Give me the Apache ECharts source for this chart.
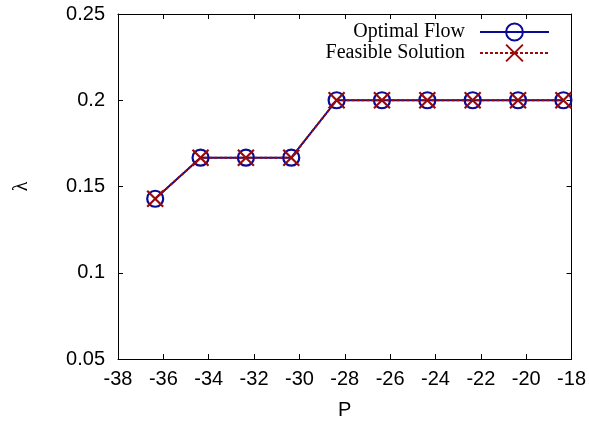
<!DOCTYPE html>
<html>
<head>
<meta charset="utf-8">
<script src="https://cdn.jsdelivr.net/npm/echarts@6/dist/echarts.min.js"></script>
<style>
html,body{margin:0;padding:0;background:#fff;}
#chart{width:589px;height:425px;}
</style>
</head>
<body>
<div id="chart"></div>
<script>
// 数据
var pValues = [-36.36, -34.36, -32.36, -30.36, -28.36, -26.36, -24.36, -22.36, -20.36, -18.36];
var optimalFlow = [0.1429, 0.1667, 0.1667, 0.1667, 0.2, 0.2, 0.2, 0.2, 0.2, 0.2];
var feasibleSolution = [0.1429, 0.1667, 0.1667, 0.1667, 0.2, 0.2, 0.2, 0.2, 0.2, 0.2];
var seriesNames = ['Optimal Flow', 'Feasible Solution'];

function pairs(xs, ys){
	var out = [];
	for(var i=0;i<xs.length;i++){
		out.push([xs[i], ys[i]]);
	}
	return out;
}

var blue = '#0a0a96';
var red = '#9a0a0a';
var tickFont = {fontFamily:'Liberation Sans', fontSize:20, color:'#000'};
var legendText = {fontFamily:'Liberation Serif', fontSize:20, color:'#000', padding:[0,10,0,0]};

var myChart = echarts.init(document.getElementById('chart'));

var option = {
	animation:false,
	grid:{left:118, right:17, top:14, bottom:66},
	legend:[{
		data:[seriesNames[0]],
		right:39, top:22, padding:0,
		align:'right',
		itemWidth:69, itemHeight:21,
		textStyle:legendText
	},{
		data:[seriesNames[1]],
		right:39, top:43, padding:0,
		align:'right',
		itemWidth:69, itemHeight:21,
		textStyle:legendText
	}],
	xAxis:[{
		type:'value',
		min:-38, max:-18, interval:2,
		name:'P', nameLocation:'middle', nameGap:41,
		nameTextStyle:{fontFamily:'Liberation Sans', fontSize:20, color:'#000'},
		axisLine:{show:true, onZero:false, lineStyle:{color:'#000', width:1}},
		axisTick:{show:true, inside:true, length:5, lineStyle:{color:'#000'}},
		axisLabel:Object.assign({margin:10}, tickFont),
		splitLine:{show:false}
	},{
		type:'value', position:'top',
		min:-38, max:-18, interval:2,
		axisLine:{show:true, onZero:false, lineStyle:{color:'#000', width:1}},
		axisTick:{show:true, inside:true, length:5, lineStyle:{color:'#000'}},
		axisLabel:{show:false},
		splitLine:{show:false}
	}],
	yAxis:[{
		type:'value',
		min:0.05, max:0.25, interval:0.05,
		name:'λ', nameLocation:'middle', nameGap:86,
		nameTextStyle:{fontFamily:'Liberation Serif', fontSize:20, color:'#000'},
		axisLine:{show:true, onZero:false, lineStyle:{color:'#000', width:1}},
		axisTick:{show:true, inside:true, length:5, lineStyle:{color:'#000'}},
		axisLabel:Object.assign({margin:13}, tickFont),
		splitLine:{show:false}
	},{
		type:'value', position:'right',
		min:0.05, max:0.25, interval:0.05,
		axisLine:{show:true, onZero:false, lineStyle:{color:'#000', width:1}},
		axisTick:{show:true, inside:true, length:5, lineStyle:{color:'#000'}},
		axisLabel:{show:false},
		splitLine:{show:false}
	}],
	series:[{
		name:seriesNames[0],
		type:'line',
		data:pairs(pValues, optimalFlow),
		symbol:'circle',
		symbolSize:16,
		showAllSymbol:true,
		lineStyle:{color:blue, width:2},
		itemStyle:{color:'rgba(0,0,0,0)', borderColor:blue, borderWidth:2.2},
		z:2
	},{
		name:seriesNames[1],
		type:'line',
		data:pairs(pValues, feasibleSolution),
		symbol:'path://M0,0L10,10M10,0L0,10',
		symbolSize:16,
		showAllSymbol:true,
		lineStyle:{color:red, width:2, type:[3,2]},
		itemStyle:{color:'rgba(0,0,0,0)', borderColor:red, borderWidth:2.2},
		z:3
	}]
};
myChart.setOption(option);
</script>
</body>
</html>
